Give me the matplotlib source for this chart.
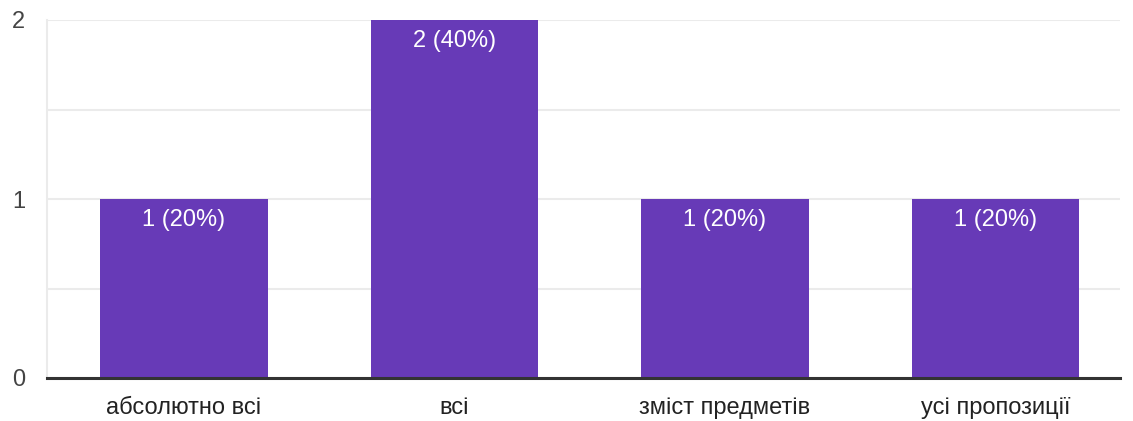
import matplotlib

matplotlib.use("Agg")
import matplotlib.pyplot as plt

categories = ["абсолютно всі", "всі", "зміст предметів", "усі пропозиції"]
counts = [1, 2, 1, 1]
labels = ["1 (20%)", "2 (40%)", "1 (20%)", "1 (20%)"]

PURPLE = "#673AB7"
GRID = "#EBEBEB"
TEXT = "#222222"

plt.rcParams["font.family"] = ["Liberation Sans", "DejaVu Sans"]

fig = plt.figure(figsize=(11.33, 4.21), dpi=100, facecolor="white")
ax = fig.add_axes([47 / 1133, 1 - 378 / 421, 1073 / 1133, 358 / 421])

x = range(len(categories))
bars = ax.bar(x, counts, width=0.62, color=PURPLE, zorder=2)
for b, lab in zip(bars, labels):
    ax.text(b.get_x() + b.get_width() / 2, b.get_height() - 0.055, lab,
            ha="center", va="top", color="white", fontsize=17, zorder=3)

ax.set_xlim(-0.506, 3.46)
ax.set_ylim(0, 2)
ax.set_yticks([0, 1, 2])
ax.set_yticks([0.5, 1.5], minor=True)
ax.yaxis.grid(True, which="both", color=GRID, lw=1.5, zorder=0)
ax.set_xticks(list(x))
ax.set_xticklabels(categories)
ax.tick_params(axis="both", which="both", length=0, labelsize=17,
               labelcolor=TEXT)
ax.tick_params(axis="x", pad=14)
ax.tick_params(axis="y", pad=25)
for lbl in ax.get_yticklabels():
    lbl.set_color("#444444")
    lbl.set_horizontalalignment("left")

for s in ("top", "right"):
    ax.spines[s].set_visible(False)
ax.spines["left"].set_color(GRID)
ax.spines["left"].set_linewidth(1.5)
ax.spines["bottom"].set_color("#333333")
ax.spines["bottom"].set_linewidth(2.2)
ax.spines["bottom"].set_zorder(4)
ax.set_axisbelow(True)

fig.savefig("out.png", dpi=100, facecolor="white")
